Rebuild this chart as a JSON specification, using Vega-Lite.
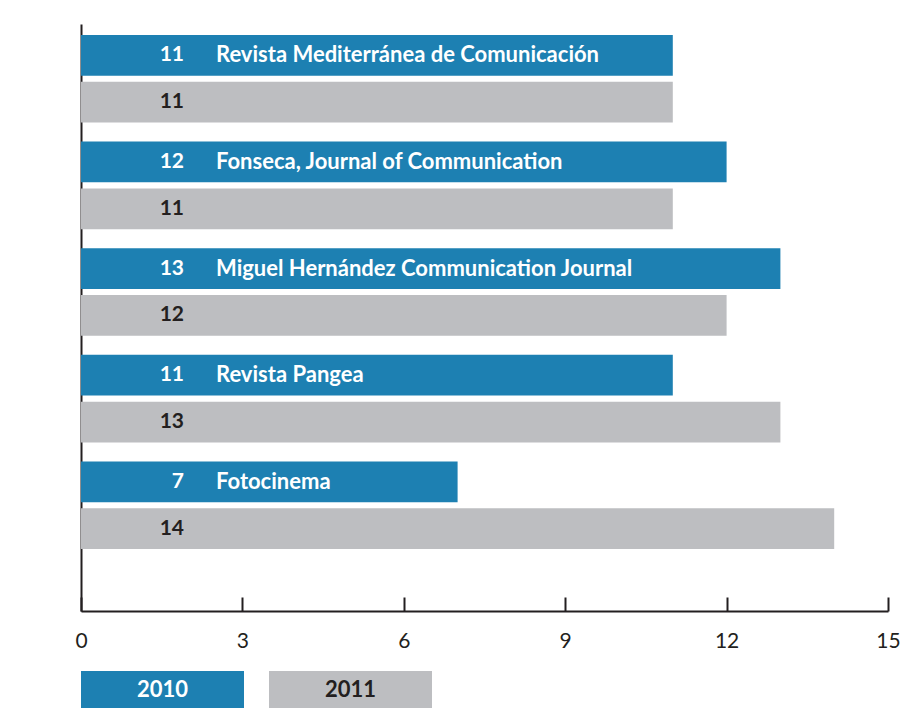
{
  "$schema": "https://vega.github.io/schema/vega-lite/v6.json",
  "background": "white",
  "padding": {"left": 74, "top": 24, "right": 13, "bottom": 6},
  "autosize": {"type": "pad"},
  "config": {"view": {"stroke": null}, "font": "Lato"},
  "bounds": "flush",
  "spacing": 60,
  "vconcat": [
    {
      "width": 807,
      "height": 587,
      "data": {
        "values": [
          {"journal": "Revista Mediterránea de Comunicación", "year": "2010", "value": 11},
          {"journal": "Revista Mediterránea de Comunicación", "year": "2011", "value": 11},
          {"journal": "Fonseca, Journal of Communication", "year": "2010", "value": 12},
          {"journal": "Fonseca, Journal of Communication", "year": "2011", "value": 11},
          {"journal": "Miguel Hernández Communication Journal", "year": "2010", "value": 13},
          {"journal": "Miguel Hernández Communication Journal", "year": "2011", "value": 12},
          {"journal": "Revista Pangea", "year": "2010", "value": 11},
          {"journal": "Revista Pangea", "year": "2011", "value": 13},
          {"journal": "Fotocinema", "year": "2010", "value": 7},
          {"journal": "Fotocinema", "year": "2011", "value": 14}
        ]
      },
      "encoding": {
        "y": {
          "field": "journal",
          "type": "nominal",
          "sort": null,
          "axis": {"title": null, "labels": false, "ticks": false, "domain": true, "domainColor": "#231f20", "domainWidth": 2},
          "scale": {"paddingInner": 0.178, "paddingOuter": 0.342, "align": 0.15}
        },
        "yOffset": {
          "field": "year",
          "type": "nominal",
          "sort": ["2010", "2011"],
          "scale": {"paddingInner": 0.13, "paddingOuter": 0}
        }
      },
      "layer": [
        {
          "mark": {"type": "bar"},
          "encoding": {
            "x": {
              "field": "value",
              "type": "quantitative",
              "scale": {"domain": [0, 15], "nice": false},
              "axis": {
                "title": null,
                "values": [0, 3, 6, 9, 12, 15],
                "grid": false,
                "tickSize": -14,
                "tickWidth": 2,
                "tickColor": "#231f20",
                "domainColor": "#231f20",
                "domainWidth": 2,
                "labelFontSize": 21,
                "labelColor": "#231f20",
                "labelPadding": 33,
                "labelFlush": false
              }
            },
            "color": {
              "field": "year",
              "type": "nominal",
              "scale": {"domain": ["2010", "2011"], "range": ["#1d80b2", "#bdbec1"]},
              "legend": null
            }
          }
        },
        {
          "mark": {"type": "text", "align": "right", "baseline": "middle", "dx": 103, "fontSize": 21, "fontWeight": "bold"},
          "encoding": {
            "x": {"datum": 0},
            "text": {"field": "value", "type": "quantitative"},
            "color": {"condition": {"test": "datum.year == '2010'", "value": "white"}, "value": "#231f20"}
          }
        },
        {
          "transform": [{"filter": "datum.year == '2010'"}],
          "mark": {"type": "text", "align": "left", "baseline": "middle", "dx": 135, "fontSize": 22, "fontWeight": "bold", "color": "white"},
          "encoding": {
            "x": {"datum": 0},
            "text": {"field": "journal", "type": "nominal"}
          }
        }
      ]
    },
    {
      "width": 351,
      "height": 37,
      "data": {"values": [{"year": "2010"}, {"year": "2011"}]},
      "encoding": {
        "x": {"field": "year", "type": "nominal", "axis": null, "scale": {"paddingInner": 0.133, "paddingOuter": 0}}
      },
      "layer": [
        {
          "mark": {"type": "bar"},
          "encoding": {
            "color": {
              "field": "year",
              "type": "nominal",
              "scale": {"domain": ["2010", "2011"], "range": ["#1d80b2", "#bdbec1"]},
              "legend": null
            }
          }
        },
        {
          "mark": {"type": "text", "align": "center", "baseline": "middle", "fontSize": 22, "fontWeight": "bold"},
          "encoding": {
            "text": {"field": "year", "type": "nominal"},
            "color": {"condition": {"test": "datum.year == '2010'", "value": "white"}, "value": "#231f20"}
          }
        }
      ]
    }
  ]
}
